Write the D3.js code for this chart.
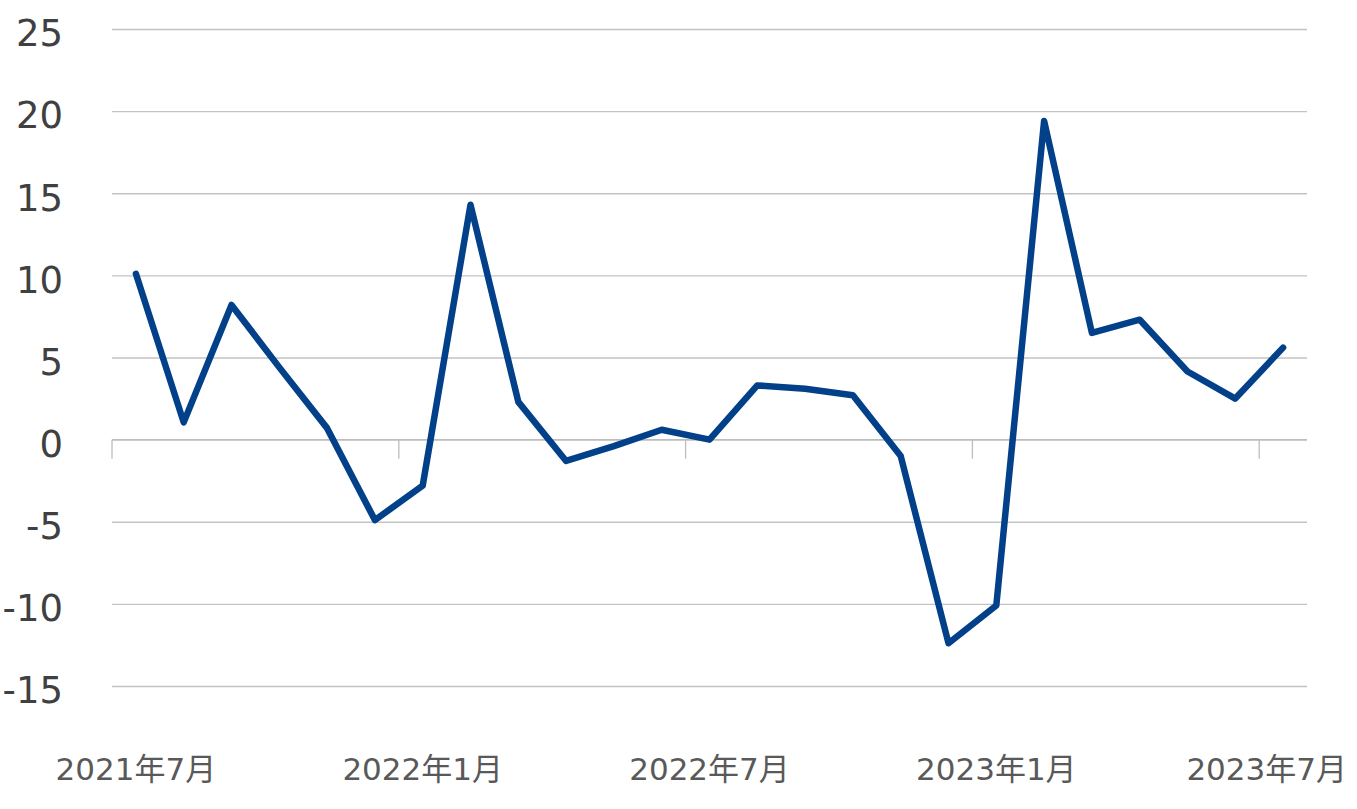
<!DOCTYPE html>
<html>
<head>
<meta charset="utf-8">
<script src="https://cdn.jsdelivr.net/npm/d3@7"></script>
<style>
  html, body { margin: 0; padding: 0; background: #ffffff; }
  svg { display: block; }
</style>
</head>
<body>
<svg id="chart" width="1357" height="809"></svg>
<script>
const categories = [
  "2021年7月","2021年8月","2021年9月","2021年10月","2021年11月","2021年12月",
  "2022年1月","2022年2月","2022年3月","2022年4月","2022年5月","2022年6月",
  "2022年7月","2022年8月","2022年9月","2022年10月","2022年11月","2022年12月",
  "2023年1月","2023年2月","2023年3月","2023年4月","2023年5月","2023年6月",
  "2023年7月"
];
const values = [
  10.1, 1.05, 8.2, 4.4, 0.7, -4.9,
  -2.8, 14.3, 2.3, -1.3, -0.4, 0.6,
  0.0, 3.3, 3.1, 2.7, -1.0, -12.4,
  -10.1, 19.4, 6.5, 7.3, 4.15, 2.5,
  5.6
];
const yTicks = [-15, -10, -5, 0, 5, 10, 15, 20, 25];
const xLabelIdx = [0, 6, 12, 18, 24];

(function () {
const svg = d3.select("#chart");
const pLeft = 112, pRight = 1307, pTop = 29, pBottom = 686;

const x = d3.scaleBand().domain(categories).range([pLeft, pRight]).padding(0);
const y = d3.scaleLinear().domain([-15, 25]).range([pBottom, pTop]);
const cx = c => x(c) + x.bandwidth() / 2;

// Gridlines via axis
const grid = svg.append("g")
  .attr("transform", `translate(${pLeft},0)`)
  .call(d3.axisLeft(y).tickValues(yTicks).tickSize(-(pRight - pLeft)).tickFormat(""));
grid.select(".domain").remove();
grid.selectAll(".tick line").attr("stroke", "#c3c3c3").attr("stroke-width", 1.3);

// Y labels (hyphen-minus as in the reference)
const yAx = svg.append("g")
  .attr("transform", `translate(63,0)`)
  .call(d3.axisLeft(y).tickValues(yTicks).tickSize(0).tickPadding(0).tickFormat(d => String(d)));
yAx.select(".domain").remove();
yAx.selectAll("text")
  .attr("text-anchor", "end")
  .attr("dy", "0.32em")
  .attr("transform", "translate(0,5)")
  .style("font-family", "'DejaVu Sans', Verdana, sans-serif")
  .style("font-size", "37px")
  .style("fill", "#404040");

// X axis line at zero
const y0 = y(0);
svg.append("line")
  .attr("x1", pLeft).attr("x2", pRight)
  .attr("y1", y0).attr("y2", y0)
  .attr("stroke", "#bdbdbd").attr("stroke-width", 1.3);

// Tick marks at band boundaries
svg.append("g").selectAll("line")
  .data(xLabelIdx)
  .join("line")
  .attr("x1", i => x(categories[i])).attr("x2", i => x(categories[i]))
  .attr("y1", y0).attr("y2", y0 + 19)
  .attr("stroke", "#bdbdbd").attr("stroke-width", 1.3);

// X labels
const xl = svg.append("g").selectAll("text")
  .data(xLabelIdx)
  .join("text")
  .attr("x", i => cx(categories[i]))
  .attr("y", 780)
  .attr("text-anchor", "middle")
  .style("font-family", "'DejaVu Sans', 'Noto Sans CJK JP', sans-serif")
  .style("font-size", "31px")
  .style("fill", "#595959")
  .text(i => categories[i]);
xl.each(function () {
  const w = this.getComputedTextLength();
  const xv = +this.getAttribute("x");
  if (xv + w / 2 > 1347) this.setAttribute("x", 1347 - w / 2);
});

// Line
const line = d3.line()
  .x((d, i) => cx(categories[i]))
  .y(d => y(d));
svg.append("path")
  .datum(values)
  .attr("d", line)
  .attr("fill", "none")
  .attr("stroke", "#02408a")
  .attr("stroke-width", 6.5)
  .attr("stroke-linejoin", "round")
  .attr("stroke-linecap", "round");
})();
</script>
</body>
</html>
